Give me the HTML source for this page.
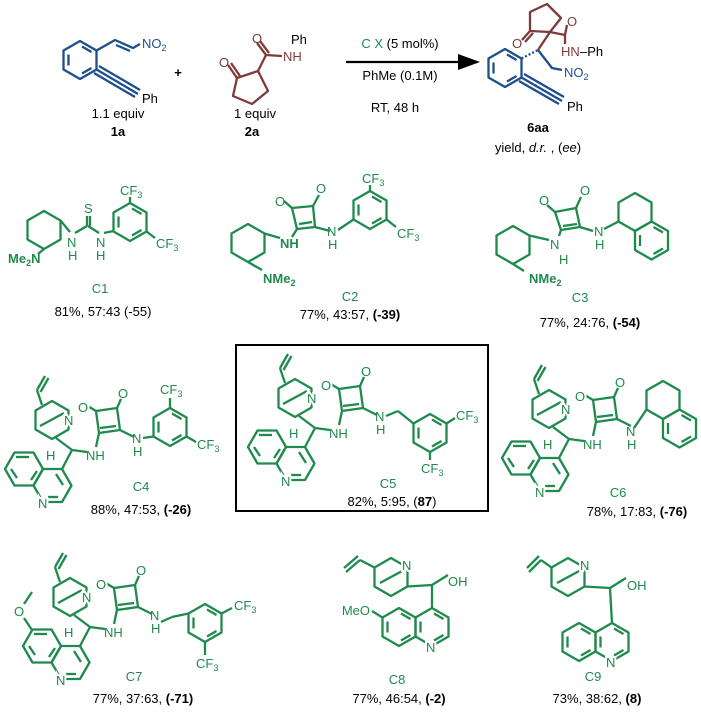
<!DOCTYPE html>
<html><head><style>
body{margin:0;background:#fff;width:701px;height:713px;overflow:hidden}
svg{display:block}
text{font-family:"Liberation Sans Narrow","Liberation Sans",sans-serif;font-size:13px}
.g{stroke:#1f8a4d;fill:none;stroke-width:2.3;stroke-linejoin:round}
.b{stroke:#1e4e8c;fill:none;stroke-width:2.3;stroke-linejoin:round}
.m{stroke:#7f3b3b;fill:none;stroke-width:2.3;stroke-linejoin:round}
.tg{fill:#1f8a4d}.tb{fill:#1e4e8c}.tm{fill:#7f3b3b}
.a{paint-order:stroke;stroke:#fff;stroke-width:4px}
.c{text-anchor:middle}
</style></head><body>
<svg width="701" height="713" viewBox="0 0 701 713">
<defs>
<polygon id="hx" points="0,-19 16.5,-9.5 16.5,9.5 0,19 -16.5,9.5 -16.5,-9.5"/>
<polygon id="hf" points="-19,0 -9.5,-16.5 9.5,-16.5 19,0 9.5,16.5 -9.5,16.5"/>
<g id="ar"><use href="#hx"/><line x1="-11.5" y1="-5.5" x2="-11.5" y2="5.5"/><line x1="2" y1="-13.5" x2="11.5" y2="-8"/><line x1="2" y1="13.5" x2="11.5" y2="8"/></g>
<g id="quin"><use href="#ar" x="0" y="0"/><use href="#hx" x="-33" y="0"/><line x1="-44.5" y1="-5.5" x2="-44.5" y2="5.5"/><line x1="-31" y1="-13.5" x2="-21.5" y2="-8"/><line x1="-31" y1="13.5" x2="-21.5" y2="8"/></g>
<g id="quinf"><use href="#hf" x="24" y="469"/><line x1="16" y1="457" x2="29" y2="457"/><line x1="11" y1="469" x2="17" y2="478" /><line x1="31" y1="480" x2="37" y2="471"/><use href="#hf" x="52.5" y="485.5"/><line x1="56" y1="474" x2="63" y2="485"/><line x1="48" y1="497" x2="58" y2="497"/></g>
<g id="core">
<line x1="42" y1="405" x2="37" y2="390"/><line x1="37" y1="390" x2="45" y2="376"/><line x1="40.5" y1="392" x2="48.5" y2="378"/>
<use href="#hx" x="52" y="420"/><line x1="40" y1="426" x2="64" y2="413"/>
<line x1="56" y1="438" x2="72" y2="450"/><line x1="72" y1="450" x2="87" y2="452"/><line x1="72" y1="450" x2="62" y2="469"/>
<use href="#quinf"/>
<polygon points="96,411 117,408 120,430 99,433"/><line x1="100" y1="428" x2="116" y2="426"/>
<line x1="96" y1="411" x2="86" y2="405"/><line x1="117" y1="408" x2="121" y2="399"/>
<line x1="99" y1="433" x2="96" y2="447"/><line x1="120" y1="430" x2="134" y2="437"/>
</g>
</defs>
<!-- 1a -->
<g class="b"><use href="#ar" x="80" y="60"/><polyline points="96.5,50.5 115,40 133,48 140,44"/><line x1="116" y1="45" x2="130" y2="51"/><line x1="96.5" y1="69.5" x2="138" y2="94"/><line x1="99" y1="66" x2="140" y2="90"/><line x1="94" y1="73" x2="135" y2="97"/></g>
<text x="142" y="48" class="tb">NO<tspan font-size="9" dy="3">2</tspan></text>
<text x="142" y="103">Ph</text>
<text x="178" y="77" class="c" font-weight="bold">+</text>
<text x="118" y="118" class="c">1.1 equiv</text><text x="118" y="136" class="c" font-weight="bold">1a</text>
<!-- 2a -->
<g class="m"><polygon points="237,78 258,71 268,91 252,104 233,96"/><line x1="237" y1="78" x2="228" y2="65"/><line x1="240" y1="76" x2="231" y2="63"/><line x1="258" y1="71" x2="266" y2="55"/><line x1="266" y1="55" x2="257" y2="43"/><line x1="269" y1="53" x2="260" y2="41"/><line x1="266" y1="55" x2="282" y2="56"/></g>
<text x="219" y="67" class="tm">O</text><text x="252" y="43" class="tm">O</text><text x="283" y="61" class="tm">NH</text><text x="291" y="44">Ph</text>
<text x="255" y="118" class="c">1 equiv</text><text x="252" y="136" class="c" font-weight="bold">2a</text>
<!-- arrow -->
<line x1="346" y1="62" x2="462" y2="62" stroke="#000" stroke-width="2.2"/><polygon points="458,54 480,62 458,70" fill="#000"/>
<text x="400" y="48" class="c"><tspan class="tg">C X</tspan> (5 mol%)</text>
<text x="400" y="80" class="c">PhMe (0.1M)</text><text x="395" y="112" class="c">RT, 48 h</text>
<!-- product -->
<g class="b"><use href="#ar" x="505" y="68"/><line x1="521.5" y1="77.5" x2="562" y2="101"/><line x1="524" y1="74" x2="564" y2="97"/><line x1="519" y1="81" x2="559" y2="104"/><line x1="521.5" y1="58.5" x2="538" y2="50" stroke-dasharray="2 2"/><polyline points="538,50 552,68 562,70"/></g>
<g class="m"><polygon points="530,12 547,4 561,18 550,32 530,31"/><line x1="530" y1="31" x2="522" y2="40"/><line x1="533" y1="33" x2="525" y2="42"/><line x1="550" y1="32" x2="565" y2="35"/><line x1="565" y1="35" x2="567" y2="25"/><line x1="565" y1="35" x2="565" y2="44"/><line x1="550" y1="32" x2="538" y2="50"/></g>
<text x="512" y="48" class="tm">O</text><text x="567" y="26" class="tm">O</text><text x="561" y="56" class="tm">HN</text><text x="580" y="56">–Ph</text>
<text x="564" y="77" class="tb">NO<tspan font-size="9" dy="3">2</tspan></text><text x="567" y="111">Ph</text>
<text x="538" y="132" class="c" font-weight="bold">6aa</text><text x="538" y="152" class="c">yield, <tspan font-style="italic">d.r.</tspan> , (<tspan font-style="italic">ee</tspan>)</text>
<!-- C1 -->
<g class="g"><use href="#hx" x="44" y="230"/><line x1="60.5" y1="220.5" x2="70" y2="232"/><line x1="75" y1="233" x2="87" y2="226"/><line x1="87" y1="226" x2="87" y2="216"/><line x1="90" y1="226" x2="90" y2="216"/><line x1="88" y1="226" x2="99" y2="233"/><line x1="104" y1="233" x2="113.5" y2="231"/><use href="#ar" x="130" y="222"/><line x1="130" y1="203" x2="130" y2="197"/><line x1="146.5" y1="231.5" x2="155" y2="238"/><line x1="44" y1="249" x2="38" y2="254"/></g>
<text x="84" y="213" class="tg">S</text><text x="120" y="195" class="tg">CF<tspan font-size="9" dy="3">3</tspan></text><text x="156" y="248" class="tg">CF<tspan font-size="9" dy="3">3</tspan></text>
<text x="8" y="263" class="tg" font-weight="bold">Me<tspan font-size="9" dy="3">2</tspan><tspan dy="-3">N</tspan></text><text x="67" y="247" class="tg">N</text><text x="96" y="247" class="tg">N</text><text x="68" y="260" class="tg">H</text><text x="96" y="260" class="tg">H</text>
<text x="100" y="293" class="c tg">C1</text><text x="103" y="316" class="c">81%, 57:43  (-55)</text>
<!-- C2 -->
<g class="g"><use href="#hx" x="248" y="243"/><line x1="264.5" y1="233.5" x2="280" y2="238"/><polygon points="292,208 313,206 315,227 297,229"/><line x1="299" y1="224" x2="312" y2="222"/><line x1="292" y1="208" x2="284" y2="201"/><line x1="313" y1="206" x2="319" y2="195"/><line x1="297" y1="229" x2="292" y2="237"/><line x1="315" y1="227" x2="330" y2="231"/><line x1="338" y1="230" x2="353.5" y2="219.5"/><use href="#ar" x="370" y="210"/><line x1="370" y1="191" x2="370" y2="185"/><line x1="386.5" y1="219.5" x2="396" y2="227"/><line x1="248" y1="262" x2="262" y2="270"/></g>
<text x="275" y="206" class="tg">O</text><text x="316" y="193" class="tg">O</text><text x="362" y="183" class="tg">CF<tspan font-size="9" dy="3">3</tspan></text><text x="397" y="238" class="tg">CF<tspan font-size="9" dy="3">3</tspan></text>
<text x="280" y="248" class="tg" font-weight="bold">NH</text><text x="327" y="236" class="tg">N</text><text x="328" y="249" class="tg">H</text><text x="263" y="283" class="tg" font-weight="bold">NMe<tspan font-size="9" dy="3">2</tspan></text>
<text x="350" y="301" class="c tg">C2</text><text x="350" y="319" class="c">77%, 43:57, <tspan font-weight="bold">(-39)</tspan></text>
<!-- C3 -->
<g class="g"><use href="#hx" x="513" y="245"/><line x1="529.5" y1="235.5" x2="549" y2="240"/><polygon points="555,212 576,208 580,227 561,230"/><line x1="563" y1="226" x2="577" y2="224"/><line x1="555" y1="212" x2="547" y2="205"/><line x1="576" y1="208" x2="581" y2="197"/><line x1="559" y1="236" x2="561" y2="230"/><line x1="580" y1="227" x2="593" y2="231"/><line x1="604" y1="229" x2="618.5" y2="221.5"/><use href="#hx" x="635" y="212"/><use href="#ar" x="651.5" y="240.5"/><line x1="513" y1="264" x2="524" y2="271"/></g>
<text x="539" y="205" class="tg">O</text><text x="580" y="195" class="tg">O</text><text x="594" y="236" class="tg">N</text><text x="595" y="249" class="tg">H</text><text x="550" y="249" class="tg">N</text><text x="559" y="264" class="tg">H</text><text x="529" y="283" class="tg" font-weight="bold">NMe<tspan font-size="9" dy="3">2</tspan></text>
<text x="580" y="302" class="c tg">C3</text><text x="590" y="327" class="c">77%, 24:76, <tspan font-weight="bold">(-54)</tspan></text>
<!-- C4 -->
<g class="g"><use href="#core"/><line x1="143" y1="438" x2="153.5" y2="436.5"/><use href="#ar" x="170" y="427"/><line x1="170" y1="408" x2="170" y2="398"/><line x1="186.5" y1="436.5" x2="196" y2="442"/></g>
<text x="64" y="425" class="tg a">N</text><text x="78" y="412" class="tg a">O</text><text x="118" y="398" class="tg">O</text><text x="46" y="460" class="tg">H</text><text x="86" y="460" class="tg">NH</text><text x="132" y="443" class="tg">N</text><text x="133" y="456" class="tg">H</text><text x="38" y="508" class="tg a">N</text>
<text x="160" y="394" class="tg">CF<tspan font-size="9" dy="3">3</tspan></text><text x="197" y="449" class="tg">CF<tspan font-size="9" dy="3">3</tspan></text>
<text x="141" y="491" class="c tg">C4</text><text x="141" y="514" class="c">88%, 47:53, <tspan font-weight="bold">(-26)</tspan></text>
<!-- C5 -->
<rect x="236" y="345" width="252" height="166" fill="none" stroke="#000" stroke-width="2"/>
<g class="g"><use href="#core" x="243" y="-22"/><line x1="386" y1="416" x2="398" y2="411"/><line x1="398" y1="411" x2="413.5" y2="423.5"/><use href="#ar" x="430" y="433"/><line x1="446.5" y1="423.5" x2="455" y2="418"/><line x1="430" y1="452" x2="430" y2="460"/></g>
<text x="307" y="403" class="tg a">N</text><text x="321" y="390" class="tg a">O</text><text x="361" y="376" class="tg">O</text><text x="289" y="438" class="tg">H</text><text x="329" y="438" class="tg">NH</text><text x="375" y="421" class="tg">N</text><text x="376" y="434" class="tg">H</text><text x="281" y="486" class="tg a">N</text>
<text x="456" y="420" class="tg">CF<tspan font-size="9" dy="3">3</tspan></text><text x="421" y="473" class="tg">CF<tspan font-size="9" dy="3">3</tspan></text>
<text x="388" y="488" class="c tg">C5</text><text x="392" y="506" class="c">82%, 5:95, (<tspan font-weight="bold">87</tspan>)</text>
<!-- C6 -->
<g class="g"><use href="#core" x="497" y="-11"/><line x1="634" y1="428" x2="646.5" y2="409.5"/><use href="#hx" x="663" y="400"/><use href="#ar" x="679.5" y="428.5"/></g>
<text x="561" y="414" class="tg a">N</text><text x="575" y="401" class="tg a">O</text><text x="615" y="387" class="tg">O</text><text x="543" y="449" class="tg">H</text><text x="583" y="449" class="tg">NH</text><text x="626" y="436" class="tg">N</text><text x="627" y="449" class="tg">H</text><text x="535" y="497" class="tg a">N</text>
<text x="618" y="497" class="c tg">C6</text><text x="637" y="516" class="c">78%, 17:83, <tspan font-weight="bold">(-76)</tspan></text>
<!-- C7 -->
<g class="g"><use href="#core" x="18" y="177"/><line x1="161" y1="622" x2="172" y2="617"/><line x1="172" y1="617" x2="188.5" y2="613.5"/><use href="#ar" x="205" y="623"/><line x1="221.5" y1="613.5" x2="232" y2="608"/><line x1="205" y1="642" x2="205" y2="655"/><line x1="32" y1="630" x2="24" y2="618"/><line x1="24" y1="604" x2="32" y2="592"/></g>
<text x="82" y="602" class="tg a">N</text><text x="96" y="589" class="tg a">O</text><text x="136" y="575" class="tg">O</text><text x="64" y="637" class="tg">H</text><text x="104" y="637" class="tg">NH</text><text x="150" y="620" class="tg">N</text><text x="151" y="633" class="tg">H</text><text x="56" y="685" class="tg a">N</text><text x="14" y="616" class="tg a">O</text>
<text x="234" y="610" class="tg">CF<tspan font-size="9" dy="3">3</tspan></text><text x="196" y="668" class="tg">CF<tspan font-size="9" dy="3">3</tspan></text>
<text x="134" y="681" class="c tg">C7</text><text x="143" y="703" class="c">77%, 37:63, <tspan font-weight="bold">(-71)</tspan></text>
<!-- C8 -->
<g class="g"><use href="#hx" x="391" y="577"/><line x1="380" y1="583" x2="404" y2="570"/><line x1="374.5" y1="567.5" x2="360" y2="560"/><line x1="360" y1="560" x2="346" y2="572"/><line x1="358" y1="556" x2="344" y2="568"/><line x1="407.5" y1="586.5" x2="432" y2="585"/><line x1="432" y1="585" x2="448" y2="575"/><line x1="432" y1="585" x2="432" y2="608"/><use href="#quin" x="432" y="627"/><line x1="382.5" y1="617.5" x2="372" y2="611"/></g>
<text x="402" y="570" class="tg a">N</text><text x="448" y="586" class="tg">OH</text><text x="370" y="615" class="tg" text-anchor="end">MeO</text><text x="426" y="652" class="tg a">N</text>
<text x="397" y="684" class="c tg">C8</text><text x="399" y="703" class="c">77%, 46:54, <tspan font-weight="bold">(-2)</tspan></text>
<!-- C9 -->
<g transform="translate(-12,0)">
<g class="g"><use href="#hx" x="580" y="577"/><line x1="569" y1="583" x2="593" y2="570"/><line x1="563.5" y1="567.5" x2="553" y2="560"/><line x1="553" y1="560" x2="541" y2="572"/><line x1="551" y1="556" x2="539" y2="568"/><line x1="596.5" y1="586.5" x2="622" y2="588"/><line x1="622" y1="588" x2="638" y2="578"/><line x1="622" y1="588" x2="624" y2="623"/><use href="#quin" x="624" y="642"/></g>
<text x="592" y="570" class="tg a">N</text><text x="639" y="590" class="tg">OH</text><text x="618" y="667" class="tg a">N</text>
</g>
<text x="593" y="681" class="c tg">C9</text><text x="597" y="703" class="c">73%, 38:62, <tspan font-weight="bold">(8)</tspan></text>
</svg>
</body></html>
